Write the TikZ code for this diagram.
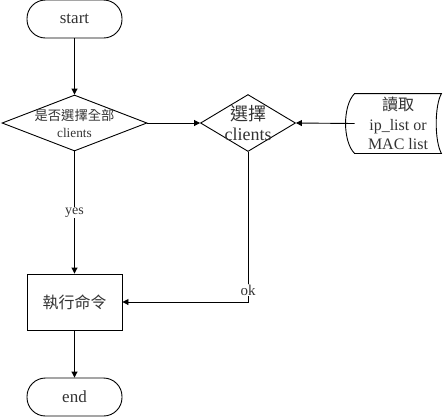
\documentclass[tikz,border=0pt]{standalone}
\usepackage{fontspec}
\setmainfont{Liberation Serif}
\newfontfamily\cjk{Noto Sans CJK TC}
\usetikzlibrary{arrows.meta,shapes.geometric}

\begin{document}
\begin{tikzpicture}[x=1pt, y=-1pt, line width=0.9pt,
    terminal/.style={rectangle, draw, rounded corners=18.5pt, minimum width=95pt, minimum height=38pt, font=\fontsize{17}{20}\selectfont},
    decision/.style={diamond, draw, inner sep=0pt},
    process/.style={rectangle, draw, minimum width=95pt, minimum height=56pt, font=\fontsize{16}{19}\selectfont},
    storage/.style={rectangle, inner sep=0pt, minimum width=86pt, minimum height=59pt, align=center, font=\fontsize{16}{19.5}\selectfont},
    arrow/.style={-{Triangle[length=6pt,width=6pt]}},
    every node/.style={text=black!80}
  ]
      \useasboundingbox (0,0) rectangle (443,416);

      % Nodes
      \node[terminal] (start) at (74.5,19) {start};
      \node[decision, minimum width=145pt, minimum height=56pt] (all) at (74.5,123) {};
      \node[align=center, font=\fontsize{13.3}{17}\selectfont] (alltext) at (all) {{\cjk 是否選擇全部}\\clients};
      \node[decision, minimum width=95pt, minimum height=57pt] (select) at (248,123) {};
      \node[align=center, font=\fontsize{18}{20}\selectfont] (selecttext) at (select) {{\cjk 選擇}\\clients};
      \node[storage] (list) at (398,123.5) {{\cjk 讀取}\\ip\_list or\\MAC list};
      \node[process] (run) at (74.5,302) {\cjk 執行命令};
      \node[terminal] (end) at (74.5,397) {end};

      % Storage outline
      \draw (list.north west) .. controls +(-12,12) and +(-12,-12) .. (list.south west)
            -- (list.south east) .. controls +(-7,-12) and +(-7,12) .. (list.north east) -- cycle;

      % Arrows
      \draw[arrow] (start) -- (all);
      \draw[arrow] (all) -- (select);
      \draw[arrow] (list.west) -- (select.east);
      \draw[arrow] (all) -- node[fill=white, inner sep=1pt, font=\fontsize{14}{16}\selectfont] (yes) {yes} (run);
      \draw[arrow] (select.south) |- node[pos=0.46, fill=white, inner sep=1pt, font=\fontsize{15}{17}\selectfont] (ok) {ok} (run.east);
      \draw[arrow] (run) -- (end);
\end{tikzpicture}
\end{document}
